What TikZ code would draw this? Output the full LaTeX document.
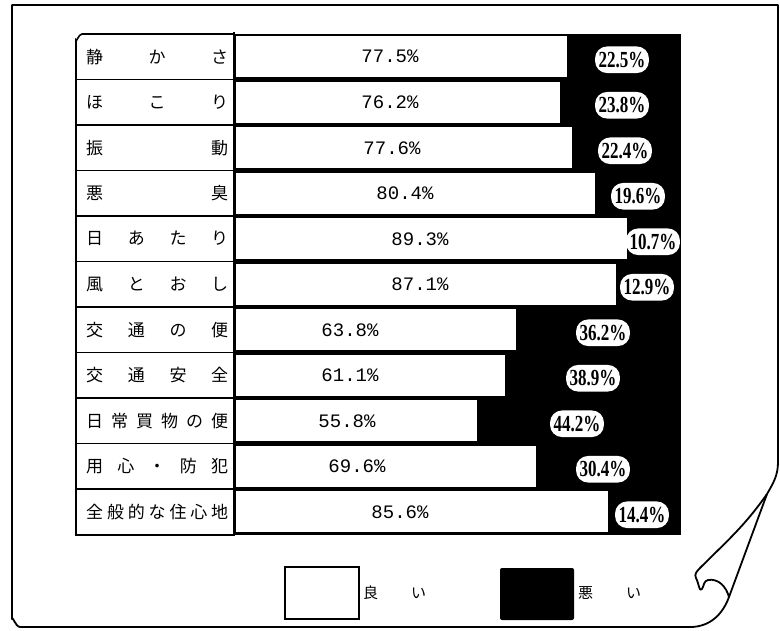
\documentclass[tikz,border=0pt]{standalone}
\usepackage{fontspec}
\usepackage{graphicx}
\setmainfont{Liberation Serif}
\newfontfamily\jp{Noto Sans CJK JP}
\newfontfamily\pctfont{Liberation Mono}
\begin{document}
\begin{tikzpicture}[x=1pt,y=-1pt,
  frame/.style={line width=1.8pt,line join=round},
  rowline/.style={line width=1.2pt},
  goodbar/.style={fill=white,draw=black,line width=0.8pt},
  goodlab/.style={font=\pctfont\fontsize{19}{19}\selectfont,inner sep=0pt},
  badlab/.style={fill=white,rounded corners=12pt,inner xsep=3.5pt,inner ysep=5.5pt,font=\bfseries\fontsize{23}{23}\selectfont},
  rowlab/.style={anchor=west,inner sep=0pt,font=\jp\fontsize{17}{17}\selectfont},
  legtext/.style={anchor=west,inner sep=0pt,font=\jp\fontsize{15}{15}\selectfont}]
\useasboundingbox (0,0) rectangle (780,630);
% outer sheet with curl
\draw[frame] (690,627) -- (20,627) to[out=180,in=90] (12,619) -- (12,5) -- (778,5) -- (778,462)
  to[out=-90,in=60] (767,494);
\draw[frame] (767,494) to[out=235,in=45] (700,568) to[out=225,in=120] (696,578)
  to[out=-60,in=-120] (702,589) to[out=60,in=190] (708,580)
  to[out=10,in=105] (729,597);
\draw[frame] (767,494) -- (729,597) to[out=-110,in=0] (690,627);
% black area
\fill[black] (234,34) rectangle (681,535);
% label column
\draw[rowline,line width=1.6pt] (234,535) -- (76,535) -- (76,40) to[out=-90,in=180] (82,34) -- (234,34);
\draw[line width=2pt] (234,32) -- (234,536);
\foreach \lab/\e/\g/\gx/\b/\bx [count=\i from 0] in {
  {静\hfill か\hfill さ}/567/77.5/390/22.5/622,
  {ほ\hfill こ\hfill り}/560/76.2/390/23.8/622,
  {振\hfill 動}/572/77.6/392/22.4/625,
  {悪\hfill 臭}/595/80.4/405/19.6/638,
  {日\hfill あ\hfill た\hfill り}/627/89.3/420/10.7/653,
  {風\hfill と\hfill お\hfill し}/616/87.1/420/12.9/647,
  {交\hfill 通\hfill の\hfill 便}/516/63.8/350/36.2/603,
  {交\hfill 通\hfill 安\hfill 全}/505/61.1/350/38.9/593,
  {日\hfill 常\hfill 買\hfill 物\hfill の\hfill 便}/477/55.8/347/44.2/577,
  {用\hfill 心\hfill ・\hfill 防\hfill 犯}/536/69.6/357/30.4/603,
  {全\hfill 般\hfill 的\hfill な\hfill 住\hfill 心\hfill 地}/608/85.6/400/14.4/642}
{
  \pgfmathsetmacro{\top}{34+45.5*\i}
  \pgfmathsetmacro{\bot}{34+45.5*(\i+1)}
  \pgfmathsetmacro{\mid}{34+45.5*(\i+0.5)}
  \draw[rowline] (76,\bot) -- (234,\bot);
  \node[rowlab] (l\i) at (86,\mid) {\makebox[142pt][s]{\lab}};
  \draw[goodbar] (235,\top+1.8) rectangle (\e,\bot-1.8);
  \node[goodlab] (g\i) at (\gx,\mid) {\g\%};
  \node[badlab] (b\i) at (\bx,\mid+3) {\scalebox{0.74}[1]{\b\%}};
}
% legend
\draw[line width=1.2pt,fill=white] (285,567) rectangle (359,619);
\node[legtext] (lg) at (363,593) {良\hspace{2.2em}い};
\fill[black,rounded corners=2pt] (500,568) rectangle (574,620);
\node[legtext] (lb) at (578,593) {悪\hspace{2.2em}い};
\end{tikzpicture}
\end{document}
